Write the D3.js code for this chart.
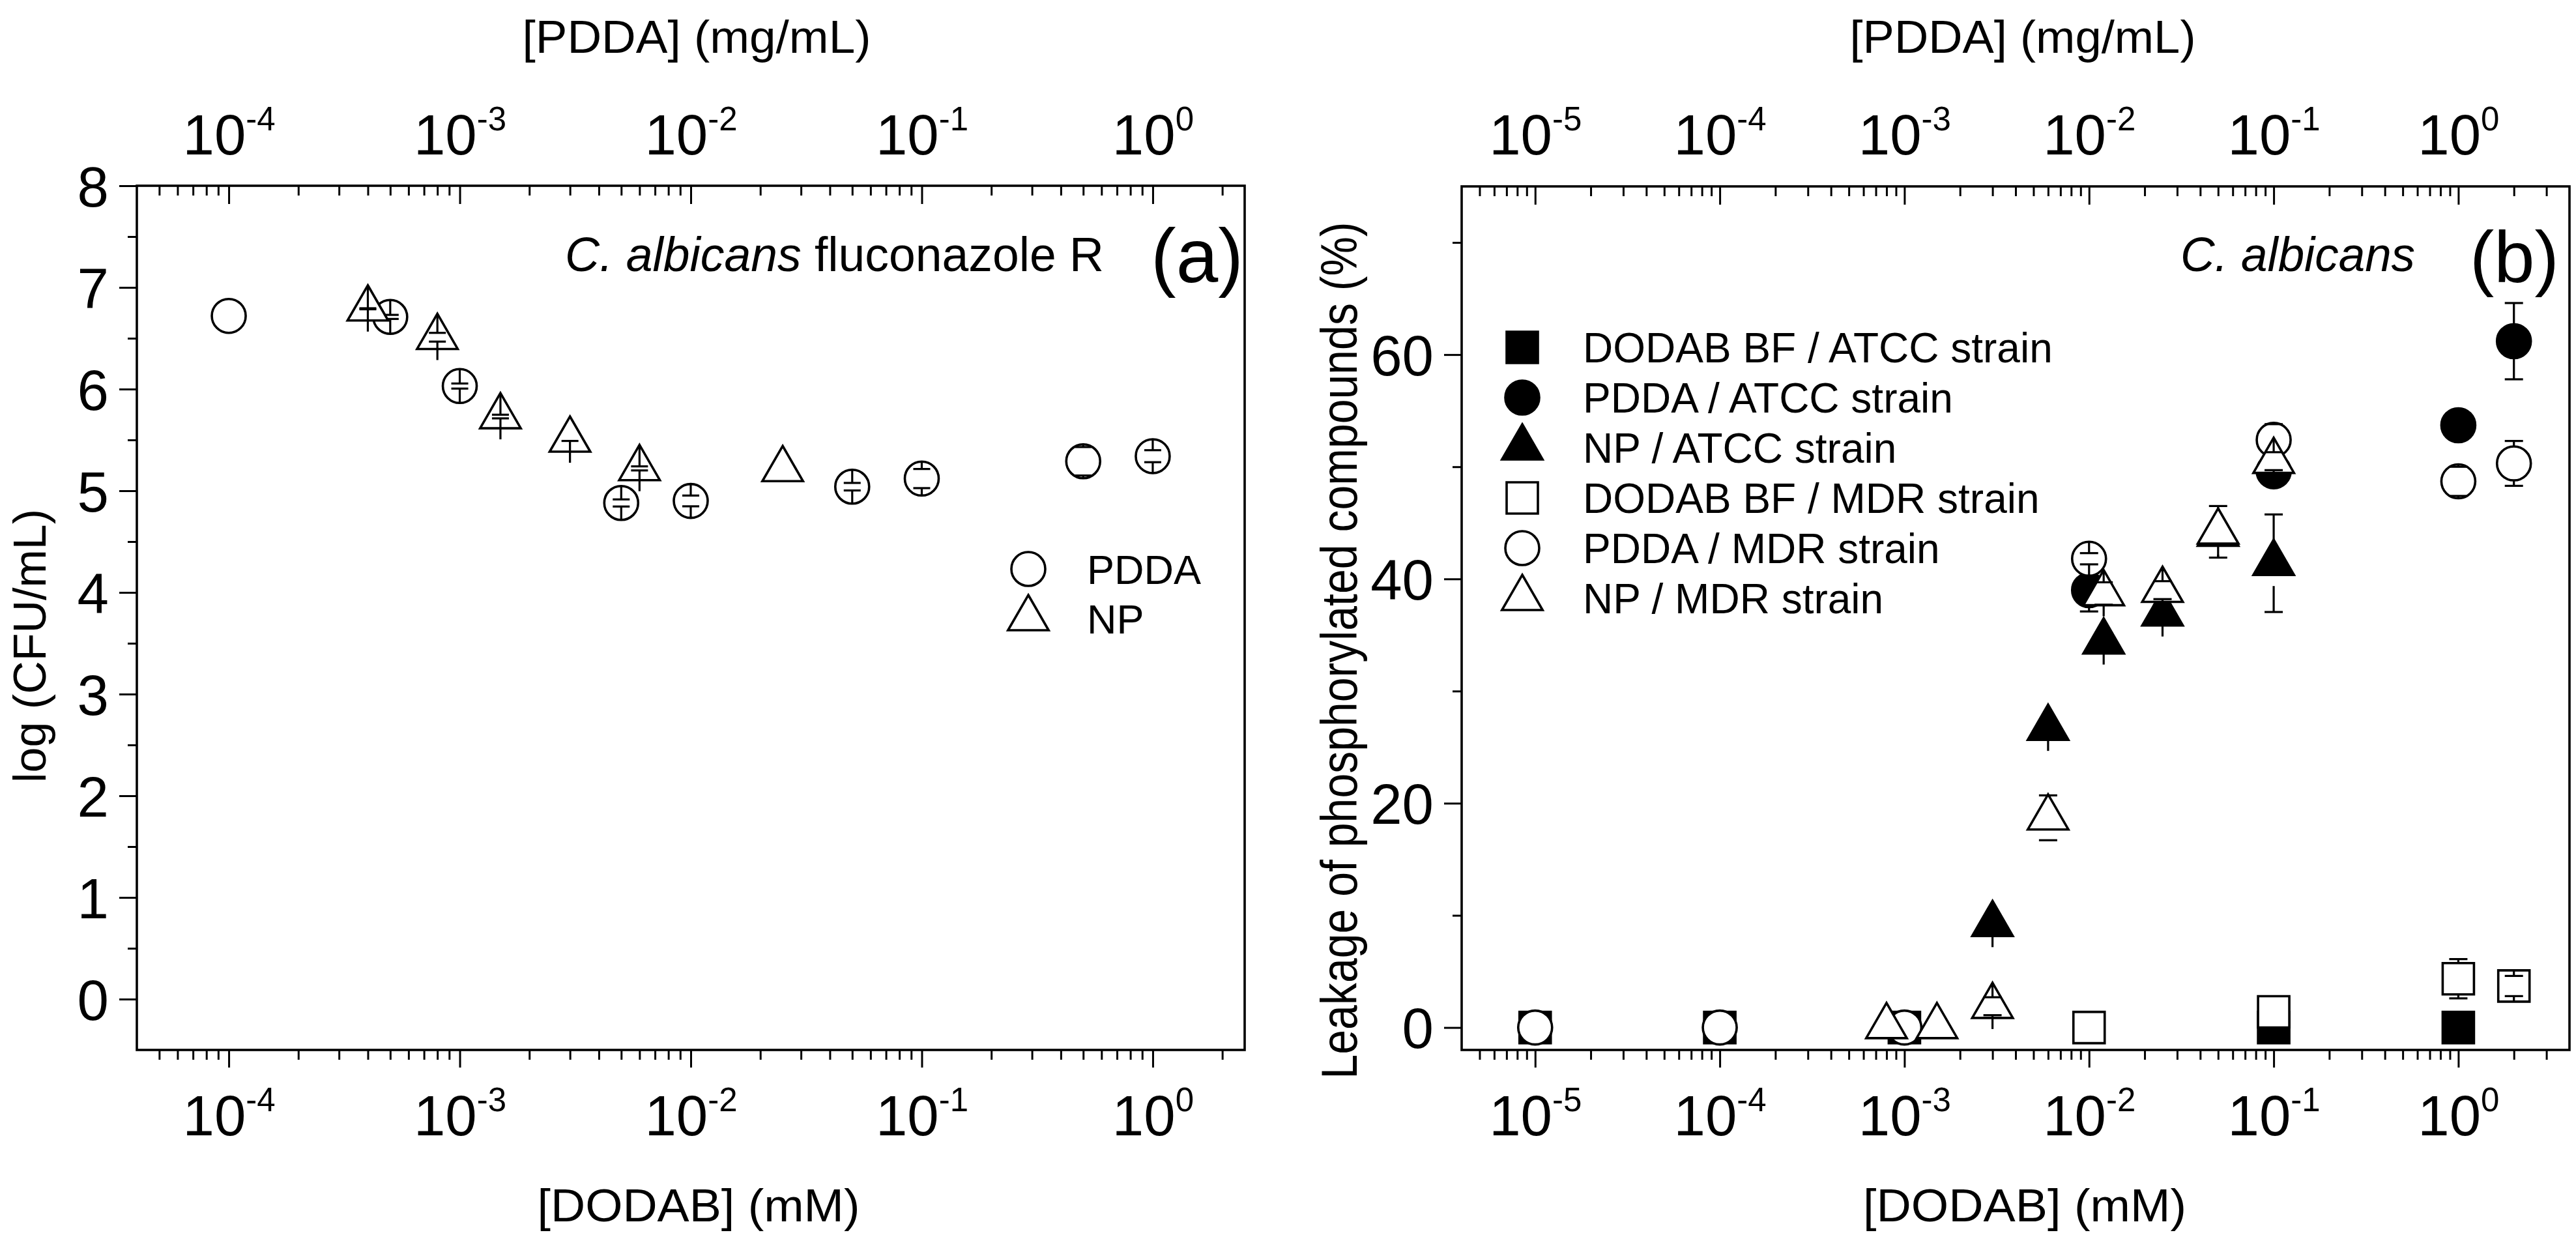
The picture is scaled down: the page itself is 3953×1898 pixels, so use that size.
<!DOCTYPE html>
<html><head><meta charset="utf-8">
<script src="https://cdn.jsdelivr.net/npm/d3@7"></script>
<style>
html,body{margin:0;padding:0;background:#fff;}
svg{display:block;}
text{font-family:"Liberation Sans",Arial,Helvetica,sans-serif;fill:#000;}
</style>
</head><body>
<svg id="chart" width="3953" height="1898"></svg>
<script>
// ---------------- Panel (a) data ----------------
const aXTicks = [1e-4, 1e-3, 1e-2, 1e-1, 1];
const aYTicks = [0, 1, 2, 3, 4, 5, 6, 7, 8];
const aYMinor = [0.5, 1.5, 2.5, 3.5, 4.5, 5.5, 6.5, 7.5];
const aPddaX = [1e-4, 5e-4, 1e-3, 5e-3, 1e-2, 5e-2, 0.1, 0.5, 1];
const aPddaY = [6.72, 6.71, 6.03, 4.88, 4.90, 5.04, 5.12, 5.29, 5.34];
const aPddaErr = [null, 0.02, 0.025, 0.035, 0.053, 0.037, 0.094, 0.14, 0.059];
const aNpX = [4e-4, 8e-4, 1.5e-3, 3e-3, 6e-3, 2.5e-2];
const aNpY = [6.79, 6.51, 5.73, 5.50, 5.22, 5.21];
const aNpErrUp = [0.005, 0.043, 0.018, null, 0.02, null];
const aNpErrDown = [0.005, 0.043, 0.018, 0.01, 0.02, null];
const aLegend = ["PDDA", "NP"];

// ---------------- Panel (b) data ----------------
const bXTicks = [1e-5, 1e-4, 1e-3, 1e-2, 1e-1, 1];
const bYTicks = [0, 20, 40, 60];
const bYMinor = [10, 30, 50, 70];
const bSqFilledX = [1e-5, 1e-4, 1e-3, 0.1, 1];
const bSqFilledY = [0, 0, 0, 0, 0];
const bSqFilledErr = [null, null, null, null, null];
const bCircFilledX = [1e-2, 0.1, 1, 2];
const bCircFilledY = [39.0, 49.6, 53.7, 61.2];
const bCircFilledErr = [1.9, 1.2, 0.5, 3.4];
const bTriFilledX = [3e-3, 6e-3, 1.2e-2, 2.5e-2, 5e-2, 0.1];
const bTriFilledY = [9.2, 26.7, 34.4, 36.9, 44.0, 41.4];
const bTriFilledErr = [0.6, 0.6, 0.8, 0.8, 0.6, 4.35];
const bSqOpenX = [1e-2, 0.1, 1, 2];
const bSqOpenY = [0, 1.4, 4.35, 3.7];
const bSqOpenErr = [null, null, 1.75, 0.9];
const bCircOpenX = [1e-5, 1e-4, 1e-3, 1e-2, 0.1, 1, 2];
const bCircOpenY = [0, 0, 0, 41.8, 52.4, 48.7, 50.3];
const bCircOpenErr = [null, null, null, 0.5, 1.4, 1.3, 2.0];
const bTriOpenX = [8e-4, 1.5e-3, 3e-3, 6e-3, 1.2e-2, 2.5e-2, 5e-2, 0.1];
const bTriOpenY = [0.1, 0.1, 1.9, 18.7, 38.7, 39.0, 44.2, 50.5];
const bTriOpenErr = [null, null, 0.8, 2.0, 1.0, 0.8, 2.3, 0.8];
const bLegend = ["DODAB BF / ATCC strain", "PDDA / ATCC strain", "NP / ATCC strain",
                 "DODAB BF / MDR strain", "PDDA / MDR strain", "NP / MDR strain"];

// ---------------- drawing ----------------
const svg = d3.select("#chart");
svg.append("rect").attr("width", 3953).attr("height", 1898).attr("fill", "#fff");

const SYM = {
  circle: {type: d3.symbolCircle, size: Math.PI * 26 * 26, gap: 27},
  triangle: {type: d3.symbolTriangle, size: 18 * 18 * 3 * Math.sqrt(3), gap: 35},
  square: {type: d3.symbolSquare, size: 48 * 48, gap: 24}
};

function minorTicks(domain) {
  const out = [];
  const e0 = Math.floor(Math.log10(domain[0])), e1 = Math.ceil(Math.log10(domain[1]));
  for (let e = e0; e <= e1; e++) for (let m = 2; m <= 9; m++) {
    const v = m * Math.pow(10, e);
    if (v > domain[0] * 1.0001 && v < domain[1] * 0.9999) out.push(v);
  }
  return out;
}

function styleAxis(sel) {
  sel.select(".domain").remove();
  sel.attr("font-size", null).attr("font-family", null);
  sel.selectAll(".tick line").attr("stroke", "#000").attr("stroke-width", 3);
}

function powLabel(sel, yBase) {
  sel.each(function(d) {
    const t = d3.select(this).append("text")
      .attr("y", yBase).attr("text-anchor", "middle").attr("font-size", 87);
    const e = Math.round(Math.log10(d));
    t.append("tspan").text("10");
    t.append("tspan").attr("dy", -37).attr("font-size", 51).text(String(e));
  });
}

function makePanel(cfg) {
  const g = svg.append("g");
  const x = d3.scaleLog().domain(cfg.xDomain).range([cfg.left, cfg.right]);
  const y = d3.scaleLinear().domain(cfg.yDomain).range([cfg.bottom, cfg.top]);
  const minors = minorTicks(cfg.xDomain);

  // bottom axis (outward)
  const bMin = g.append("g").attr("transform", `translate(0,${cfg.bottom})`)
    .call(d3.axisBottom(x).tickValues(minors).tickSize(15).tickFormat(() => ""));
  styleAxis(bMin);
  const bMaj = g.append("g").attr("transform", `translate(0,${cfg.bottom})`)
    .call(d3.axisBottom(x).tickValues(cfg.xTicks).tickSize(27).tickFormat(() => ""));
  styleAxis(bMaj);
  bMaj.selectAll(".tick text").remove();
  powLabel(bMaj.selectAll(".tick"), 1742 - cfg.bottom);

  // top axis (inward)
  const tMin = g.append("g").attr("transform", `translate(0,${cfg.top})`)
    .call(d3.axisTop(x).tickValues(minors).tickSize(-15).tickFormat(() => ""));
  styleAxis(tMin);
  const tMaj = g.append("g").attr("transform", `translate(0,${cfg.top})`)
    .call(d3.axisTop(x).tickValues(cfg.xTicks).tickSize(-28).tickFormat(() => ""));
  styleAxis(tMaj);
  tMaj.selectAll(".tick text").remove();
  powLabel(tMaj.selectAll(".tick"), 237 - cfg.top);

  // left axis (outward)
  const lMin = g.append("g").attr("transform", `translate(${cfg.left},0)`)
    .call(d3.axisLeft(y).tickValues(cfg.yMinor).tickSize(14).tickFormat(() => ""));
  styleAxis(lMin);
  const lMaj = g.append("g").attr("transform", `translate(${cfg.left},0)`)
    .call(d3.axisLeft(y).tickValues(cfg.yTicks).tickSize(27).tickPadding(16).tickFormat(d3.format("d")));
  styleAxis(lMaj);
  lMaj.selectAll(".tick text").attr("font-size", 87).attr("dy", "0.36em").attr("fill", "#000");

  // frame
  g.append("rect").attr("x", cfg.left).attr("y", cfg.top)
    .attr("width", cfg.right - cfg.left).attr("height", cfg.bottom - cfg.top)
    .attr("fill", "none").attr("stroke", "#000").attr("stroke-width", 3.6);

  // axis titles
  const cx = cfg.titleCx;
  g.append("text").attr("x", cx).attr("y", 81).attr("text-anchor", "middle")
    .attr("font-size", 71).attr("textLength", cfg.topTitleW).attr("lengthAdjust", "spacingAndGlyphs")
    .text("[PDDA] (mg/mL)");
  g.append("text").attr("x", cx + 3).attr("y", 1874).attr("text-anchor", "middle")
    .attr("font-size", 71).attr("textLength", cfg.botTitleW).attr("lengthAdjust", "spacingAndGlyphs")
    .text("[DODAB] (mM)");
  const yt = g.append("text").attr("transform", `translate(${cfg.yTitleX},${cfg.yTitleY}) rotate(-90)`)
    .attr("text-anchor", "middle").attr("font-size", cfg.yTitleSize).text(cfg.yTitle);
  if (cfg.yTitleW) yt.attr("textLength", cfg.yTitleW).attr("lengthAdjust", "spacingAndGlyphs");

  return {g, x, y};
}

function drawSeries(p, xs, ys, errUp, errDown, shape, filled, capHalf) {
  const s = SYM[shape];
  const pts = xs.map((v, i) => ({x: v, y: ys[i], up: errUp[i], dn: errDown[i]}));
  p.g.append("g").selectAll("path").data(pts).join("path")
    .attr("d", d3.symbol().type(s.type).size(s.size))
    .attr("transform", d => `translate(${p.x(d.x)},${p.y(d.y)})`)
    .attr("fill", filled ? "#000" : "#fff")
    .attr("stroke", "#000").attr("stroke-width", 3.6);
  const segs = [];
  pts.forEach(d => {
    const cx = p.x(d.x), cy = p.y(d.y);
    if (d.up != null) segs.push({cx, from: cy - s.gap, to: p.y(d.y + d.up)});
    if (d.dn != null) segs.push({cx, from: cy + s.gap, to: p.y(d.y - d.dn)});
  });
  const eg = p.g.append("g").attr("stroke", "#000").attr("stroke-width", 3.2);
  eg.selectAll("line.v").data(segs).join("line").attr("class", "v")
    .attr("x1", d => d.cx).attr("x2", d => d.cx).attr("y1", d => d.from).attr("y2", d => d.to);
  eg.selectAll("line.c").data(segs).join("line").attr("class", "c")
    .attr("x1", d => d.cx - capHalf).attr("x2", d => d.cx + capHalf)
    .attr("y1", d => d.to).attr("y2", d => d.to);
}

function legendItem(g, cx, cy, shape, filled, label, tx, fs) {
  const s = SYM[shape];
  g.append("path").attr("d", d3.symbol().type(s.type).size(s.size)())
    .attr("transform", `translate(${cx},${cy})`)
    .attr("fill", filled ? "#000" : "#fff").attr("stroke", "#000").attr("stroke-width", 3.6);
  g.append("text").attr("x", tx).attr("y", cy + 23).attr("font-size", fs).text(label);
}

// Panel (a)
const pa = makePanel({
  left: 210, right: 1910, top: 285, bottom: 1611,
  xDomain: [4e-5, 2.5], yDomain: [-0.5, 8],
  xTicks: aXTicks, yTicks: aYTicks, yMinor: aYMinor,
  titleCx: 1069, topTitleW: 535, botTitleW: 495,
  yTitle: "log (CFU/mL)", yTitleX: 70, yTitleY: 991, yTitleSize: 70
});
drawSeries(pa, aPddaX, aPddaY, aPddaErr, aPddaErr, "circle", false, 13);
drawSeries(pa, aNpX, aNpY, aNpErrUp, aNpErrDown, "triangle", false, 13);
pa.g.append("text").attr("x", 867).attr("y", 416).attr("font-size", 75)
  .attr("textLength", 827).attr("lengthAdjust", "spacingAndGlyphs")
  .call(t => { t.append("tspan").attr("font-style", "italic").text("C. albicans");
               t.append("tspan").text(" fluconazole R"); });
pa.g.append("text").attr("x", 1766).attr("y", 433).attr("font-size", 116).text("(a)");
legendItem(pa.g, 1578, 873, "circle", false, aLegend[0], 1668, 63);
legendItem(pa.g, 1578, 949, "triangle", false, aLegend[1], 1668, 63);

// Panel (b)
const pb = makePanel({
  left: 2243, right: 3943, top: 286, bottom: 1611,
  xDomain: [4e-6, 4], yDomain: [-2, 75],
  xTicks: bXTicks, yTicks: bYTicks, yMinor: bYMinor,
  titleCx: 3104, topTitleW: 531, botTitleW: 496,
  yTitle: "Leakage of phosphorylated compounds (%)", yTitleX: 2082, yTitleY: 998,
  yTitleSize: 78, yTitleW: 1315
});
drawSeries(pb, bSqFilledX, bSqFilledY, bSqFilledErr, bSqFilledErr, "square", true, 14);
drawSeries(pb, bCircFilledX, bCircFilledY, bCircFilledErr, bCircFilledErr, "circle", true, 14);
drawSeries(pb, bTriFilledX, bTriFilledY, bTriFilledErr, bTriFilledErr, "triangle", true, 14);
drawSeries(pb, bSqOpenX, bSqOpenY, bSqOpenErr, bSqOpenErr, "square", false, 14);
drawSeries(pb, bCircOpenX, bCircOpenY, bCircOpenErr, bCircOpenErr, "circle", false, 14);
drawSeries(pb, bTriOpenX, bTriOpenY, bTriOpenErr, bTriOpenErr, "triangle", false, 14);
pb.g.append("text").attr("x", 3346).attr("y", 416).attr("font-size", 75)
  .attr("textLength", 360).attr("lengthAdjust", "spacingAndGlyphs")
  .attr("font-style", "italic").text("C. albicans");
pb.g.append("text").attr("x", 3790).attr("y", 433).attr("font-size", 112).text("(b)");
const bShapes = [["square", true], ["circle", true], ["triangle", true],
                 ["square", false], ["circle", false], ["triangle", false]];
bLegend.forEach((lab, i) => {
  legendItem(pb.g, 2336, 533 + i * 77, bShapes[i][0], bShapes[i][1], lab, 2429, 64);
});
</script>
</body></html>
